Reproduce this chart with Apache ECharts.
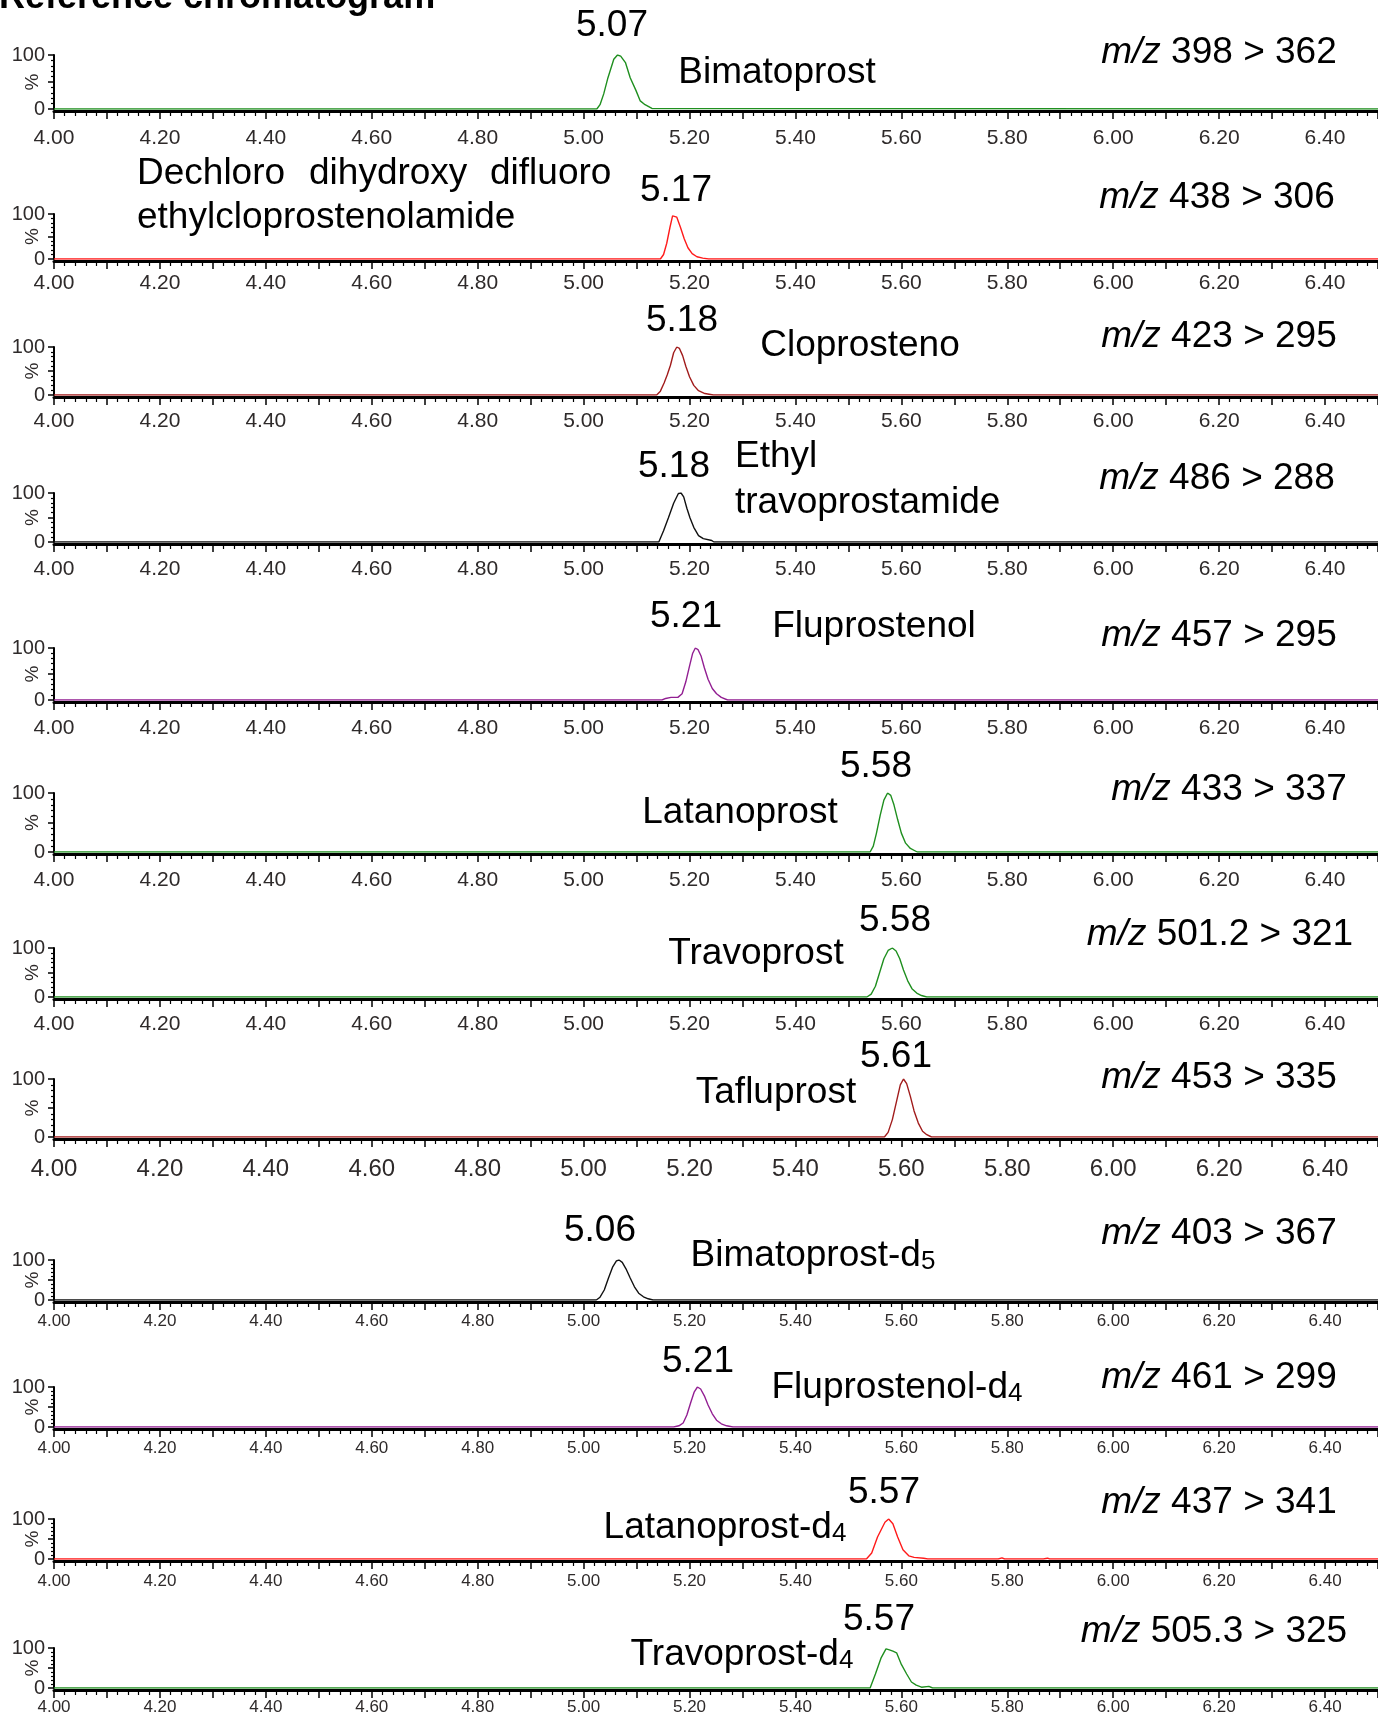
<!DOCTYPE html>
<html>
<head>
<meta charset="utf-8">
<title>Reference chromatogram</title>
<script src="https://cdn.jsdelivr.net/npm/echarts@6/dist/echarts.min.js"></script>
<style>
  html, body { margin: 0; padding: 0; background: #fff; }
  #chart { width: 1378px; height: 1719px; }
</style>
</head>
<body>
<div id="chart"></div>
<script>
// tick labels shown on the time axis and the intensity axis
const xTickLabels = ['4.00', '4.20', '4.40', '4.60', '4.80', '5.00', '5.20', '5.40', '5.60', '5.80', '6.00', '6.20', '6.40'];
const yTickLabels = ['0', '100'];

// one chromatogram per panel: [time (min), relative intensity (%)]
const bimatoprost = [[4.00, 0], [5.025, 0], [5.031, 8], [5.038, 28], [5.046, 58], [5.057, 92], [5.064, 100], [5.070, 98], [5.079, 86], [5.088, 58], [5.099, 34], [5.107, 15], [5.116, 8], [5.129, 1], [5.132, 0], [6.50, 0]];
const dechloroAmide = [[4.00, 0], [5.145, 0], [5.151, 10], [5.157, 35], [5.163, 70], [5.168, 96], [5.171, 100], [5.176, 93], [5.183, 70], [5.190, 45], [5.197, 25], [5.205, 12], [5.214, 5], [5.225, 2], [5.236, 0], [6.50, 0]];
const cloprostenol = [[4.00, 0], [5.138, 0], [5.145, 8], [5.152, 25], [5.158, 42], [5.164, 62], [5.170, 88], [5.176, 100], [5.181, 97], [5.187, 82], [5.193, 60], [5.200, 38], [5.208, 20], [5.217, 9], [5.229, 3], [5.245, 0], [6.50, 0]];
const ethylTravoprostamide = [[4.00, 0], [5.142, 0], [5.151, 23], [5.160, 49], [5.170, 79], [5.179, 99], [5.184, 100], [5.189, 92], [5.195, 69], [5.201, 49], [5.208, 30], [5.217, 13], [5.226, 7], [5.242, 3], [5.246, 0], [6.50, 0]];
const fluprostenol = [[4.00, 0], [5.148, 0], [5.155, 3], [5.165, 5], [5.178, 5], [5.186, 12], [5.193, 35], [5.200, 65], [5.206, 90], [5.211, 100], [5.216, 97], [5.222, 84], [5.228, 62], [5.235, 40], [5.243, 22], [5.251, 12], [5.260, 5], [5.272, 0], [6.50, 0]];
const latanoprost = [[4.00, 0], [5.541, 0], [5.547, 10], [5.553, 32], [5.560, 62], [5.567, 88], [5.574, 100], [5.580, 96], [5.586, 80], [5.593, 55], [5.600, 32], [5.608, 15], [5.617, 6], [5.630, 0], [6.50, 0]];
const travoprost = [[4.00, 0], [5.535, 0], [5.543, 6], [5.551, 22], [5.559, 50], [5.567, 78], [5.575, 95], [5.583, 100], [5.590, 94], [5.597, 78], [5.604, 55], [5.612, 33], [5.620, 17], [5.629, 8], [5.638, 3], [5.648, 0], [6.50, 0]];
const tafluprost = [[4.00, 0], [5.568, 0], [5.575, 8], [5.583, 30], [5.591, 62], [5.598, 90], [5.604, 100], [5.610, 92], [5.617, 70], [5.624, 45], [5.632, 24], [5.640, 10], [5.648, 4], [5.657, 0], [6.50, 0]];
const bimatoprostD5 = [[4.00, 0], [5.024, 0], [5.031, 7], [5.039, 25], [5.047, 55], [5.055, 83], [5.062, 98], [5.067, 100], [5.073, 94], [5.080, 78], [5.088, 55], [5.096, 33], [5.104, 17], [5.113, 8], [5.122, 3], [5.131, 0], [6.50, 0]];
const fluprostenolD4 = [[4.00, 0], [5.170, 0], [5.180, 3], [5.188, 10], [5.195, 30], [5.202, 60], [5.209, 88], [5.215, 100], [5.221, 95], [5.228, 78], [5.235, 55], [5.243, 33], [5.251, 17], [5.260, 8], [5.270, 3], [5.282, 0], [6.50, 0]];
const latanoprostD4 = [[4.00, 0], [5.534, 0], [5.544, 15], [5.555, 55], [5.569, 92], [5.576, 100], [5.584, 88], [5.593, 55], [5.603, 23], [5.614, 8], [5.624, 4], [5.642, 2], [5.650, 0], [5.775, 0], [5.778, 3], [5.783, 0], [5.790, 3], [5.795, 0], [5.860, 0], [5.863, 2], [5.868, 0], [5.876, 2], [5.880, 0], [6.50, 0]];
const travoprostD4 = [[4.00, 0], [5.541, 0], [5.551, 35], [5.562, 76], [5.571, 98], [5.576, 96], [5.584, 92], [5.591, 88], [5.600, 59], [5.610, 35], [5.619, 15], [5.628, 7], [5.638, 2], [5.652, 4], [5.659, 0], [6.50, 0]];

const traces = [bimatoprost, dechloroAmide, cloprostenol, ethylTravoprostamide, fluprostenol, latanoprost,
  travoprost, tafluprost, bimatoprostD5, fluprostenolD4, latanoprostD4, travoprostD4];

// labels of each panel
const compounds = ['Bimatoprost', 'Dechloro dihydroxy difluoro ethylcloprostenolamide', 'Cloprosteno', 'Ethyl travoprostamide',
  'Fluprostenol', 'Latanoprost', 'Travoprost', 'Tafluprost', 'Bimatoprost-d₅', 'Fluprostenol-d₄', 'Latanoprost-d₄', 'Travoprost-d₄'];
const retentionTimes = ['5.07', '5.17', '5.18', '5.18', '5.21', '5.58', '5.58', '5.61', '5.06', '5.21', '5.57', '5.57'];
const transitions = ['398 > 362', '438 > 306', '423 > 295', '486 > 288', '457 > 295', '433 > 337',
  '501.2 > 321', '453 > 335', '403 > 367', '461 > 299', '437 > 341', '505.3 > 325'];

// styling / layout
const GREEN = '#1f8f1f', RED = '#ff1a1a', DARKRED = '#a11c1c', BLACK = '#111111', PURPLE = '#921f92';
const traceColors = [GREEN, RED, DARKRED, BLACK, PURPLE, GREEN, GREEN, DARKRED, BLACK, PURPLE, RED, GREEN];

const FONT = "'Liberation Sans', Arial, Helvetica, sans-serif";
const AXIS_TEXT = '#2e2a2a';

// top / bottom of each plot (px), tick label size and gap
const panels = [
  { top: 55, bottom: 109, fs: 21, gap: 17 },
  { top: 214, bottom: 259, fs: 21, gap: 12 },
  { top: 347, bottom: 395, fs: 21, gap: 14 },
  { top: 493, bottom: 542, fs: 21, gap: 15 },
  { top: 648, bottom: 700, fs: 21, gap: 16 },
  { top: 793, bottom: 852, fs: 21, gap: 16 },
  { top: 948, bottom: 997, fs: 21, gap: 15 },
  { top: 1079, bottom: 1137, fs: 24, gap: 18 },
  { top: 1260, bottom: 1300, fs: 17, gap: 11 },
  { top: 1387, bottom: 1427, fs: 17, gap: 11 },
  { top: 1519, bottom: 1559, fs: 17, gap: 12 },
  { top: 1648, bottom: 1688, fs: 17, gap: 9 }
];

// where the annotation texts sit: rt label, name pieces (one per word when split), m/z label
const textPlaces = [
  { rt: [612, 26], name: [[777, 73, 'center']], mz: [1219, 53] },
  { rt: [676, 191], name: [[137, 174, 'left'], [309, 174, 'left'], [490, 174, 'left'], [137, 218, 'left']], mz: [1217, 198] },
  { rt: [682, 321], name: [[860, 346, 'center']], mz: [1219, 337] },
  { rt: [674, 467], name: [[735, 457, 'left'], [735, 503, 'left']], mz: [1217, 479] },
  { rt: [686, 617], name: [[874, 627, 'center']], mz: [1219, 636] },
  { rt: [876, 767], name: [[740, 813, 'center']], mz: [1229, 790] },
  { rt: [895, 921], name: [[756, 954, 'center']], mz: [1220, 935] },
  { rt: [896, 1057], name: [[776, 1093, 'center']], mz: [1219, 1078] },
  { rt: [600, 1231], name: [[813, 1256, 'center']], mz: [1219, 1234] },
  { rt: [698, 1362], name: [[897, 1388, 'center']], mz: [1219, 1378] },
  { rt: [884, 1493], name: [[725, 1528, 'center']], mz: [1219, 1503] },
  { rt: [879, 1620], name: [[742, 1655, 'center']], mz: [1214, 1632] }
];

const TXT = 37;
const rich = {
  a: { fontSize: TXT, fontFamily: FONT, fill: '#000', verticalAlign: 'bottom' },
  i: { fontSize: TXT, fontFamily: FONT, fill: '#000', fontStyle: 'italic', verticalAlign: 'bottom' },
  s: { fontSize: 26, fontFamily: FONT, fill: '#000', lineHeight: 22, verticalAlign: 'bottom' }
};

function richName(str) {
  const m = str.match(/^(.*?)([\u2080-\u2089]+)$/);
  if (!m) return '{a|' + str + '}';
  const sub = m[2].replace(/[\u2080-\u2089]/g, c => String.fromCharCode(c.charCodeAt(0) - 0x2080 + 48));
  return '{a|' + m[1] + '}{s|' + sub + '}';
}

function textEl(x, y, text, align) {
  return {
    type: 'text', x: x, y: y, silent: true,
    style: { text: text, fontSize: TXT, fontFamily: FONT, fill: '#000', align: align || 'center', verticalAlign: 'middle', rich: rich }
  };
}

const grids = [], xAxes = [], yAxes = [], series = [];
const graphic = [{
  type: 'text', x: -1, y: -2, silent: true,
  style: { text: 'Reference chromatogram', fontSize: 36, fontWeight: 'bold', fontFamily: FONT, fill: '#000', align: 'left', verticalAlign: 'middle' }
}];

panels.forEach((p, k) => {
  grids.push({ left: 54, right: 0, top: p.top, height: p.bottom - p.top, containLabel: false, outerBoundsMode: 'none' });
  xAxes.push({
    gridIndex: k, type: 'value', min: 4.0, max: 6.5, interval: 0.1, offset: 2,
    axisLine: { onZero: false, lineStyle: { color: '#000', width: 3 } },
    axisTick: { length: 8, lineStyle: { color: '#000', width: 1.5 } },
    minorTick: { show: true, splitNumber: 5, length: 5, lineStyle: { color: '#000', width: 1.2 } },
    splitLine: { show: false },
    axisLabel: {
      margin: p.gap, fontSize: p.fs, fontFamily: FONT, color: AXIS_TEXT, hideOverlap: false,
      formatter: v => { const s = v.toFixed(2); return xTickLabels.includes(s) ? s : ''; }
    }
  });
  yAxes.push({
    gridIndex: k, type: 'value', min: 0, max: 100, interval: 50,
    name: '%', nameLocation: 'middle', nameRotate: 90, nameGap: 12, nameMoveOverlap: false,
    nameTextStyle: { fontSize: 19, fontFamily: FONT, color: AXIS_TEXT },
    axisLine: { show: true, lineStyle: { color: '#000', width: 2 } },
    axisTick: { show: true, length: 6, lineStyle: { color: '#000', width: 1.5 } },
    minorTick: { show: true, splitNumber: 5, length: 3, lineStyle: { color: '#000', width: 1.2 } },
    splitLine: { show: false },
    axisLabel: {
      margin: 9, fontSize: 20, fontFamily: FONT, color: AXIS_TEXT,
      formatter: v => { const s = String(Math.round(v)); return yTickLabels.includes(s) ? s : ''; }
    }
  });
  series.push({
    type: 'line', xAxisIndex: k, yAxisIndex: k, data: traces[k],
    showSymbol: false, silent: true, animation: false,
    lineStyle: { color: traceColors[k], width: 1.4 }
  });

  const place = textPlaces[k];
  graphic.push(textEl(place.rt[0], place.rt[1], '{a|' + retentionTimes[k] + '}', 'center'));
  const pieces = place.name.length > 1 ? compounds[k].split(' ') : [compounds[k]];
  pieces.forEach((w, j) => {
    const pos = place.name[j];
    graphic.push(textEl(pos[0], pos[1], richName(w), pos[2]));
  });
  graphic.push(textEl(place.mz[0], place.mz[1], '{i|m/z}{a| ' + transitions[k] + '}', 'center'));
});

const chart = echarts.init(document.getElementById('chart'), null, { renderer: 'canvas' });
chart.setOption({
  animation: false,
  backgroundColor: '#fff',
  grid: grids,
  xAxis: xAxes,
  yAxis: yAxes,
  series: series,
  graphic: graphic
});
</script>
</body>
</html>
